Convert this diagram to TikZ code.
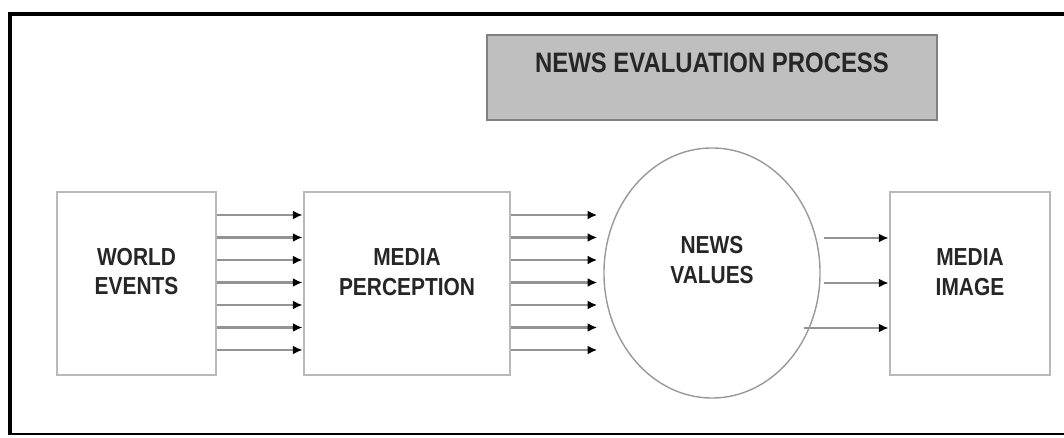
\documentclass[tikz,border=0pt]{standalone}
\usepackage{fontspec}
\setmainfont{Liberation Sans}[FakeStretch=0.85]
\usetikzlibrary{shapes.geometric,arrows.meta,calc}

\begin{document}
\begin{tikzpicture}[x=0.025cm,y=-0.025cm,style=thick]
\tikzstyle{stage}=[draw=gray!55, line width=2pt, fill=white, inner sep=0pt, minimum height=4.575cm]
\tikzstyle{caption}=[font=\bfseries\fontsize{17.5}{21}\selectfont, align=center, text=black!85]
\tikzstyle{flow}=[draw=gray!85, line width=2pt, -{Latex[length=0.24cm,width=0.22cm,black]}]
\useasboundingbox (0,0) rectangle (1064,438);

% frame
\draw[line width=3pt] (1070,14) -- (10,14) -- (10,435);
\draw[line width=1.5pt] (10,434) -- (1070,434);

\node[draw=gray, fill=black!25, line width=1.2pt, minimum width=11.25cm, minimum height=2.125cm,
  label={[caption,font=\bfseries\fontsize{20}{24}\selectfont,yshift=0.37cm]center:NEWS EVALUATION PROCESS}] (title) at (712,77.5) {};

\node[stage, minimum width=3.975cm, label={[caption,yshift=0.3cm]center:WORLD\\EVENTS}] (world) at (136.5,283.5) {};
\node[stage, minimum width=5.15cm, label={[caption,yshift=0.28cm]center:MEDIA\\PERCEPTION}] (perception) at (407,283.5) {};
\node[ellipse, draw=gray!80, line width=1pt, minimum width=5.4cm, minimum height=6.25cm, inner sep=0pt,
  label={[caption,yshift=0.32cm]center:NEWS\\VALUES}] (values) at (712,273) {};
\node[stage, minimum width=4cm, label={[caption,yshift=0.28cm]center:MEDIA\\IMAGE}] (image) at (970,283.5) {};

\foreach \y in {215,237.5,...,350} {
  \draw[flow] (world.east |- 0,\y) -- (perception.west |- 0,\y);
  \draw[flow] (perception.east |- 0,\y) -- ($(values.west |- 0,\y)+(-6,0)$);
}
\foreach \y/\s in {238/3,283/3,328/-17}
  \draw[flow] ($(values.east |- 0,\y)+(\s,0)$) -- (image.west |- 0,\y);
\end{tikzpicture}
\end{document}
